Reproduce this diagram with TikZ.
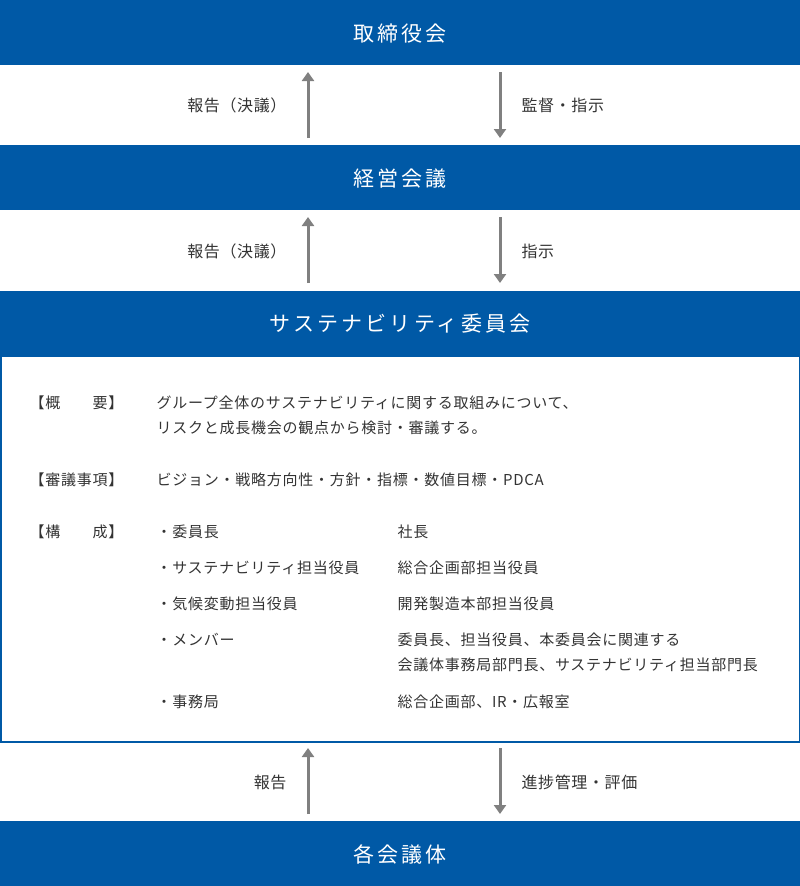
\documentclass[tikz,border=0pt]{standalone}
\usepackage{fontspec}
\usetikzlibrary{arrows.meta}
\setmainfont{Noto Sans CJK JP}
\definecolor{bar}{HTML}{0059A6}
\definecolor{arr}{HTML}{808080}
\definecolor{txt}{HTML}{333333}
\begin{document}
\begin{tikzpicture}[x=1pt,y=-1pt,
  bartext/.style={text=white,font=\fontsize{21}{24}\selectfont\addfontfeature{LetterSpace=15}},
  flowarrow/.style={draw=arr,line width=3pt,-{Triangle[length=9pt,width=12pt]}},
  lbl/.style={text=txt,font=\fontsize{16}{18}\selectfont\addfontfeature{LetterSpace=4}},
  body/.style={text=txt,font=\fontsize{15}{17}\selectfont\addfontfeature{LetterSpace=5},anchor=west}]
\useasboundingbox (0,0) rectangle (800,886);
\fill[bar] (0,0) rectangle (800,65);
\node[bartext] (t1) at (400,34) {取締役会};
\fill[bar] (0,145) rectangle (800,210);
\node[bartext] (t2) at (400,179) {経営会議};
\fill[bar] (0,291) rectangle (800,356);
\node[bartext] (t3) at (400,324) {サステナビリティ委員会};
\draw[bar,line width=1.5pt] (0.75,356) rectangle (799.25,742);
\fill[bar] (0,821) rectangle (800,886);
\node[bartext] (t4) at (400,855) {各会議体};
% arrows
\coordinate (a1s) at (308,138); \coordinate (a1e) at (308,72);
\coordinate (b1s) at (500,72); \coordinate (b1e) at (500,138);
\draw[flowarrow] (a1s) -- (a1e);
\draw[flowarrow] (b1s) -- (b1e);
\node[lbl,anchor=east] (l1) at (290,105) {報告（決議）};
\node[lbl,anchor=west] (r1) at (518,105) {監督・指示};
\coordinate (a2s) at (308,283); \coordinate (a2e) at (308,217);
\coordinate (b2s) at (500,217); \coordinate (b2e) at (500,283);
\draw[flowarrow] (a2s) -- (a2e);
\draw[flowarrow] (b2s) -- (b2e);
\node[lbl,anchor=east] (l2) at (290,251) {報告（決議）};
\node[lbl,anchor=west] (r2) at (518,251) {指示};
\coordinate (a3s) at (308,814); \coordinate (a3e) at (308,748);
\coordinate (b3s) at (500,748); \coordinate (b3e) at (500,814);
\draw[flowarrow] (a3s) -- (a3e);
\draw[flowarrow] (b3s) -- (b3e);
\node[lbl,anchor=east] (l3) at (290,782) {報告};
\node[lbl,anchor=west] (r3) at (518,782) {進捗管理・評価};
% body
\node[body] (h1) at (26,403) {【概　　要】};
\node[body] (c1) at (153,403) {グループ全体のサステナビリティに関する取組みについて、};
\node[body] (c1b) at (153,428) {リスクと成長機会の観点から検討・審議する。};
\node[body] (h2) at (26,480) {【審議事項】};
\node[body] (c2) at (153,480) {ビジョン・戦略方向性・方針・指標・数値目標・PDCA};
\node[body] (h3) at (26,532) {【構　　成】};
\node[body] (m1) at (153,532) {・委員長};
\node[body] (v1) at (394,532) {社長};
\node[body] (m2) at (153,568) {・サステナビリティ担当役員};
\node[body] (v2) at (394,568) {総合企画部担当役員};
\node[body] (m3) at (153,604) {・気候変動担当役員};
\node[body] (v3) at (394,604) {開発製造本部担当役員};
\node[body] (m4) at (153,640) {・メンバー};
\node[body] (v4) at (394,640) {委員長、担当役員、本委員会に関連する};
\node[body] (v4b) at (394,665) {会議体事務局部門長、サステナビリティ担当部門長};
\node[body] (m5) at (153,702) {・事務局};
\node[body] (v5) at (394,702) {総合企画部、IR・広報室};
\end{tikzpicture}
\end{document}
